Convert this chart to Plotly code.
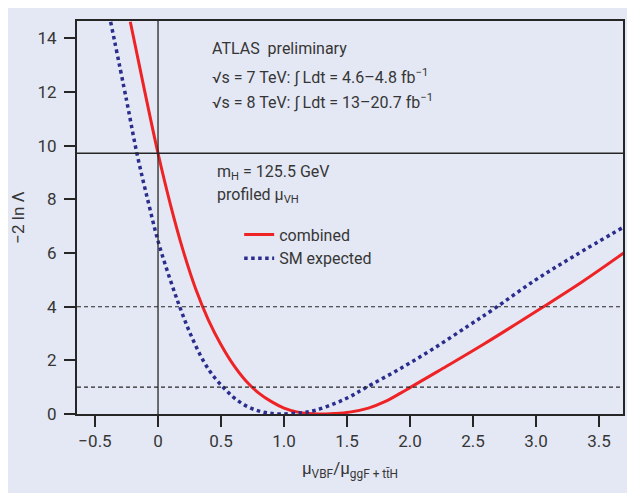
import plotly.graph_objects as go

# ---- data ----
combined_x = [-0.22, -0.11, 0.0, 0.1, 0.2, 0.3, 0.4, 0.5, 0.6, 0.7, 0.8, 0.9, 1.0, 1.1, 1.2,
              1.27, 1.40, 1.52, 1.67, 1.80, 1.925, 2.006, 2.246, 2.59, 3.046, 3.367, 3.695]
combined_y = [14.62, 12.13, 9.72, 7.78, 6.08, 4.65, 3.50, 2.58, 1.82, 1.22, 0.78, 0.46, 0.22, 0.08, 0.015,
              0.0, 0.02, 0.07, 0.22, 0.46, 0.78, 1.00, 1.66, 2.62, 3.96, 4.93, 6.00]

expected_x = [-0.376, -0.25, -0.166, -0.08, 0.0, 0.09, 0.175, 0.26, 0.366, 0.45, 0.525, 0.60, 0.684,
              0.78, 0.87, 0.98, 1.14, 1.25, 1.40, 1.52, 1.64, 1.925, 2.19, 2.46, 2.66, 2.99, 3.31, 3.695]
expected_y = [14.62, 11.70, 9.68, 7.95, 6.45, 5.10, 3.96, 2.95, 1.93, 1.35, 0.96, 0.62, 0.34,
              0.14, 0.04, 0.0, 0.05, 0.14, 0.39, 0.64, 0.96, 1.70, 2.45, 3.28, 3.90, 4.98, 5.91, 6.97]

observed_at_zero = 9.72        # solid horizontal reference line
sigma_levels = [1, 4]          # dashed horizontal reference lines
zero_x = 0                     # solid vertical reference line

x_tickvals = [-0.5, 0, 0.5, 1.0, 1.5, 2.0, 2.5, 3.0, 3.5]
x_ticktext = ["\u22120.5", "0", "0.5", "1.0", "1.5", "2.0", "2.5", "3.0", "3.5"]
y_tickvals = [0, 2, 4, 6, 8, 10, 12, 14]
y_ticktext = ["0", "2", "4", "6", "8", "10", "12", "14"]

BG = "#e4e8f4"
INK = "#262626"
TXT = "#363636"
FONT = "Roboto, Liberation Sans, sans-serif"

fig = go.Figure()

fig.add_trace(go.Scatter(x=combined_x, y=combined_y, mode="lines", name="combined",
                         line=dict(color="#ee2326", width=3, shape="spline", smoothing=1.0)))
fig.add_trace(go.Scatter(x=expected_x, y=expected_y, mode="lines", name="SM expected",
                         line=dict(color="#2a2d8c", width=3.5, dash="dot", shape="spline", smoothing=1.0)))

fig.add_hline(y=observed_at_zero, line=dict(color=INK, width=1.5))
fig.add_vline(x=zero_x, line=dict(color=INK, width=1.3))
for lv in sigma_levels:
    fig.add_hline(y=lv, line=dict(color=INK, width=1.1, dash="4px,3px"))

ann = dict(xref="paper", yref="paper", xanchor="left", yanchor="middle", showarrow=False,
           font=dict(family=FONT, size=16, color=TXT))
fig.add_annotation(text="ATLAS  preliminary", x=0.244, y=0.931, **ann)
fig.add_annotation(text="\u221as = 7 TeV: \u222b Ldt = 4.6\u20134.8 fb<sup>\u22121</sup>", x=0.244, y=0.860, **ann)
fig.add_annotation(text="\u221as = 8 TeV: \u222b Ldt = 13\u201320.7 fb<sup>\u22121</sup>", x=0.244, y=0.796, **ann)
fig.add_annotation(text="m<sub>H</sub> = 125.5 GeV", x=0.253, y=0.614, **ann)
fig.add_annotation(text="profiled \u03bc<sub>VH</sub>", x=0.253, y=0.555, **ann)

fig.update_layout(
    width=635, height=493,
    margin=dict(l=69, r=20, t=13, b=87),
    paper_bgcolor=BG, plot_bgcolor=BG,
    font=dict(family=FONT, size=17, color=TXT),
    showlegend=True,
    legend=dict(x=0.297, y=0.50, xanchor="left", yanchor="top", bgcolor="rgba(0,0,0,0)",
                font=dict(family=FONT, size=16, color=TXT), tracegroupgap=0),
    xaxis=dict(range=[-0.643, 3.69], tickvals=x_tickvals, ticktext=x_ticktext, automargin=False,
               ticks="outside", ticklen=11, tickwidth=1.8, tickcolor=INK,
               showline=True, linecolor=INK, linewidth=2, mirror=True,
               showgrid=False, zeroline=False, tickfont=dict(size=17),
               title=dict(text="\u03bc<sub>VBF</sub>/\u03bc<sub>ggF + tt\u0304H</sub>",
                          font=dict(size=17, color=TXT), standoff=12)),
    yaxis=dict(range=[0, 14.65], tickvals=y_tickvals, ticktext=y_ticktext, automargin=False,
               ticks="outside", ticklen=11, tickwidth=1.8, tickcolor=INK, ticklabelstandoff=4,
               showline=True, linecolor=INK, linewidth=2, mirror=True,
               showgrid=False, zeroline=False, tickfont=dict(size=17),
               title=dict(text="\u22122 ln \u039b", font=dict(size=17, color=TXT), standoff=10)),
)

fig.write_html("out.html")
